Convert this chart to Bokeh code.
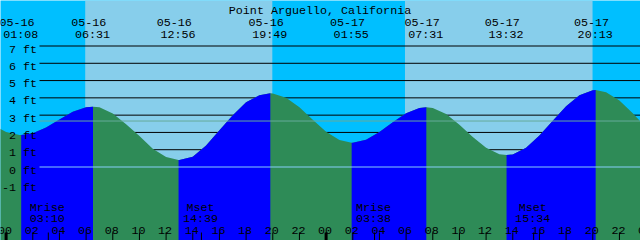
from bokeh.plotting import figure
from bokeh.models import Range1d
from bokeh.core.properties import value
from bokeh.embed import file_html
from bokeh.resources import INLINE

# ---------------- data ----------------
title_text = "Point Arguello, California"

ext_date = ["05-16", "05-16", "05-16", "05-16", "05-17", "05-17", "05-17", "05-17"]
ext_time = ["01:08", "06:31", "12:56", "19:49", "01:55", "07:31", "13:32", "20:13"]
ext_ft = [1.85, 3.49, 0.40, 4.26, 1.40, 3.46, 0.69, 4.45]

moon_event = ["Mrise", "Mset", "Mrise", "Mset"]
moon_date = ["05-16", "05-16", "05-17", "05-17"]
moon_time = ["03:10", "14:39", "03:38", "15:34"]

sunrise_date = ["05-16", "05-17"]
sunrise_time = ["05:56", "05:55"]
sunset_date = ["05-16", "05-17"]
sunset_time = ["19:58", "19:59"]

# water level read at every full hour (hours after 05-16 00:00)
level_hour = list(range(-1, 49))
level_ft = [2.43, 2.03, 1.85, 1.95, 2.29, 2.75, 3.19, 3.45, 3.45, 3.10,
            2.48, 1.80, 1.06, 0.58, 0.40, 0.60, 1.25, 2.12, 3.00, 3.75,
            4.15, 4.25, 4.00, 3.45, 2.73, 2.04, 1.56, 1.40, 1.58, 2.03,
            2.59, 3.11, 3.42, 3.42, 3.06, 2.45, 1.73, 1.11, 0.74, 0.73,
            1.12, 1.82, 2.68, 3.52, 4.15, 4.44, 4.33, 3.85, 3.11, 2.29]

depth_ft = [7, 6, 5, 4, 3, 2, 1, 0, -1]
msl_ft = [2.66]
datum_ft = [0]
hour_ticks = list(range(0, 49, 2))
midnights = [0, 24, 48]


def hours(date, hm):
    day = int(date[3:]) - 16
    h, m = hm.split(":")
    return day * 24 + int(h) + int(m) / 60.0


ext_t = [hours(d, t) for d, t in zip(ext_date, ext_time)]
moon_t = [hours(d, t) for d, t in zip(moon_date, moon_time)]
rise_t = [hours(d, t) for d, t in zip(sunrise_date, sunrise_time)]
set_t = [hours(d, t) for d, t in zip(sunset_date, sunset_time)]

# ---------------- layout ----------------
W, H = 640, 240
PXH = 40.0 / 3.0          # pixels per hour
PXF = 121.0 / 7.0         # pixels per foot
X0 = -0.42
X1 = X0 + W / PXH
Y1 = 166.5 / PXF
Y0 = Y1 - H / PXF

NIGHT = "#00BFFF"
DAY = "#87CEEB"
FLOOD = "#0000FF"
EBB = "#2E8B57"
DATUM = "#87CEFA"
MSL = "#66AA99"
FONT = value("Liberation Mono")
FS = "11.7px"
LINE_X0 = X0 + 39 / PXH

p = figure(width=W, height=H, x_range=Range1d(X0, X1), y_range=Range1d(Y0, Y1),
           output_backend="svg", toolbar_location=None, min_border=0,
           x_axis_location=None, y_axis_location=None)
p.grid.visible = False
p.outline_line_color = None
p.background_fill_color = NIGHT
p.border_fill_color = NIGHT

# daylight bands
p.quad(left=rise_t, right=set_t, bottom=Y0, top=Y1, fill_color=DAY, line_color=None)

# depth lines
p.segment(x0=LINE_X0, x1=X1, y0=depth_ft, y1=depth_ft, line_color="black", line_width=1)

# water curve: hourly readings plus the extremes
pts = sorted(list(zip(level_hour, level_ft)) + list(zip(ext_t, ext_ft)))
cx = [a for a, b in pts]
cy = [b for a, b in pts]
bottom = Y0 - 1
p.patch(cx + [cx[-1], cx[0]], cy + [bottom, bottom], fill_color=EBB, line_color=None)

rxs, rys = [], []
for i in range(len(ext_t) - 1):
    if ext_ft[i + 1] > ext_ft[i]:
        seg = [(a, b) for a, b in pts if ext_t[i] <= a <= ext_t[i + 1]]
        xs = [a for a, b in seg]
        ys = [b for a, b in seg]
        rxs.append(xs + [xs[-1], xs[0]])
        rys.append(ys + [bottom, bottom])
p.patches(rxs, rys, fill_color=FLOOD, line_color=None)

# datum and mean sea level lines
p.segment(x0=LINE_X0, x1=X1, y0=datum_ft, y1=datum_ft, line_color=DATUM, line_width=1)
p.segment(x0=LINE_X0, x1=X1, y0=msl_ft, y1=msl_ft, line_color=MSL, line_width=1)

# bottom ticks
TK = Y0 + 8 / PXF
p.segment(x0=hour_ticks, x1=hour_ticks, y0=Y0, y1=TK, line_color="black", line_width=1)
p.segment(x0=moon_t, x1=moon_t, y0=Y0, y1=TK, line_color="black", line_width=1)
p.segment(x0=midnights, x1=midnights, y0=Y0, y1=TK, line_color="black", line_width=3)

txt = dict(text_font=FONT, text_font_size=FS, text_color="black", text_baseline="alphabetic")

# title
p.text(x=[(X0 + X1) / 2], y=[Y1], text=[title_text], text_align="center",
       y_offset=10, x_offset=-0.5, **txt)
# extremes labels
p.text(x=ext_t, y=[Y1] * len(ext_t), text=ext_date, text_align="center",
       y_offset=22, x_offset=-4.2, **txt)
p.text(x=ext_t, y=[Y1] * len(ext_t), text=ext_time, text_align="center",
       y_offset=34, x_offset=-0.5, **txt)
# depth labels
p.text(x=[X0] * len(depth_ft), y=depth_ft, text=[f"{d} ft" for d in depth_ft],
       text_align="right", x_offset=36.5, y_offset=3.5, **txt)
# hour labels
p.text(x=hour_ticks, y=[Y0] * len(hour_ticks), text=[f"{h % 24:02d}" for h in hour_ticks],
       text_align="center", x_offset=-1, y_offset=-10, **txt)
# moon labels
p.text(x=moon_t, y=[Y0] * len(moon_t), text=moon_event, text_align="center",
       x_offset=-1, y_offset=-33, **txt)
p.text(x=moon_t, y=[Y0] * len(moon_t), text=moon_time, text_align="center",
       x_offset=-1, y_offset=-22, **txt)

open("out.html", "w").write(file_html(p, INLINE))
